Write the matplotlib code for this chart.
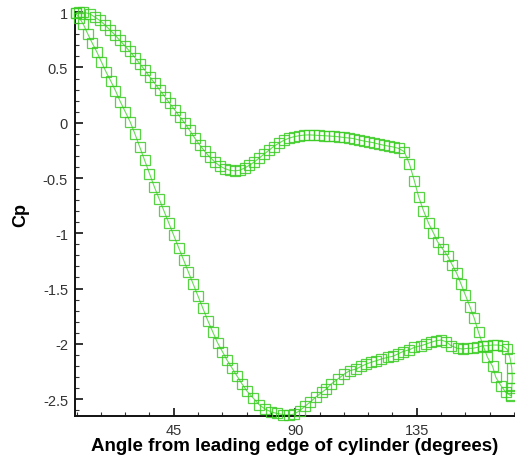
import matplotlib
matplotlib.use("Agg")
import matplotlib.pyplot as plt
from matplotlib.ticker import MultipleLocator, FuncFormatter

# Surface pressure coefficient around the cylinder, two branches of the loop
upper_deg = [8.6, 9.8, 11.5, 13.9, 15.8, 17.6, 19.5, 21.3, 23.2, 25.0, 26.9, 28.7,
             30.6, 32.4, 34.3, 36.1, 38.0, 39.8, 41.7, 43.5, 45.4, 47.2, 49.1, 50.9,
             52.8, 54.6, 56.5, 58.3, 60.2, 62.0, 63.9, 65.7, 67.6, 69.4, 71.2, 73.0,
             74.8, 76.6, 78.4, 80.2, 82.0, 83.9, 85.7, 87.6, 89.4, 91.3, 93.1, 95.0,
             96.8, 98.7, 100.5, 102.4, 104.2, 106.1, 107.9, 109.8, 111.6, 113.5,
             115.3, 117.2, 119.0, 120.9, 122.7, 124.6, 126.4, 128.3, 130.4, 132.3,
             134.1, 135.7, 137.5, 139.4, 141.2, 142.7, 144.6, 146.4, 148.1, 149.8,
             151.4, 153.0, 154.7, 156.3, 157.9, 159.6, 161.2, 163.1, 164.3, 166.2,
             168.0, 169.9]
upper_cp = [0.99, 1.0, 1.0, 0.985, 0.955, 0.925, 0.885, 0.84, 0.795, 0.745, 0.695,
            0.645, 0.59, 0.535, 0.475, 0.415, 0.355, 0.295, 0.235, 0.175, 0.115,
            0.055, -0.005, -0.07, -0.14, -0.2, -0.26, -0.31, -0.355, -0.39, -0.415,
            -0.43, -0.435, -0.43, -0.41, -0.385, -0.355, -0.32, -0.285, -0.25,
            -0.215, -0.185, -0.16, -0.14, -0.127, -0.118, -0.112, -0.11, -0.112,
            -0.115, -0.117, -0.12, -0.123, -0.127, -0.133, -0.138, -0.143, -0.155,
            -0.165, -0.173, -0.181, -0.193, -0.203, -0.212, -0.22, -0.232, -0.262,
            -0.373, -0.524, -0.669, -0.795, -0.91, -0.997, -1.076, -1.142, -1.203,
            -1.284, -1.362, -1.459, -1.558, -1.664, -1.769, -1.896, -2.017, -2.122,
            -2.204, -2.303, -2.379, -2.439, -2.47]

lower_deg = [8.6, 10.0, 11.5, 13.2, 14.8, 16.5, 18.2, 19.9, 21.6, 23.4, 25.2, 27.0,
             28.8, 30.6, 32.4, 34.2, 36.0, 37.8, 39.6, 41.4, 43.2, 45.0, 46.8, 48.6,
             50.4, 52.2, 54.0, 55.8, 57.6, 59.4, 61.2, 63.0, 64.8, 66.6, 68.4, 70.2,
             72.2, 74.4, 76.6, 78.8, 81.0, 83.2, 85.4, 87.6, 89.6, 91.6, 93.6, 95.6,
             97.7, 99.8, 101.5, 103.3, 105.8, 108.2, 110.1, 112.6, 114.4, 116.3,
             118.1, 120.0, 121.8, 124.3, 126.1, 128.0, 129.8, 132.3, 134.1, 136.6,
             138.5, 140.3, 142.2, 144.0, 145.9, 147.7, 150.1, 152.0, 153.8, 155.7,
             157.5, 159.4, 161.2, 163.1, 164.9, 166.8, 168.5, 169.6, 170.2, 170.4,
             170.2, 170.0]
lower_cp = [0.99, 0.95, 0.89, 0.80, 0.72, 0.64, 0.55, 0.46, 0.38, 0.29, 0.19, 0.10,
            0.01, -0.10, -0.22, -0.34, -0.46, -0.58, -0.69, -0.80, -0.91, -1.02,
            -1.13, -1.24, -1.35, -1.46, -1.57, -1.68, -1.79, -1.89, -1.99, -2.07,
            -2.15, -2.22, -2.29, -2.36, -2.43, -2.49, -2.55, -2.59, -2.615, -2.63,
            -2.64, -2.645, -2.635, -2.605, -2.565, -2.525, -2.48, -2.44, -2.409,
            -2.364, -2.318, -2.273, -2.243, -2.228, -2.204, -2.183, -2.167, -2.153,
            -2.138, -2.122, -2.113, -2.092, -2.071, -2.053, -2.032, -2.017, -2.002,
            -1.986, -1.972, -1.966, -1.981, -2.017, -2.041, -2.047, -2.041, -2.041,
            -2.032, -2.017, -2.017, -2.011, -2.011, -2.017, -2.05, -2.13, -2.22,
            -2.31, -2.40, -2.46]

x_major = [45, 90, 135]

plt.rcParams["font.family"] = ["Liberation Sans", "DejaVu Sans"]
plt.rcParams["axes.unicode_minus"] = False

fig = plt.figure(figsize=(5.15, 4.6), dpi=100)
ax = fig.add_axes([0.1456, 0.0942, 0.8544, 0.8771])

for xs, ys in [(upper_deg, upper_cp), (lower_deg, lower_cp)]:
    ax.plot(xs, ys, color="#66dd55", linewidth=0.8, zorder=2, clip_on=False)
    ax.plot(xs, ys, linestyle="none", marker="s", markersize=7.8,
            markerfacecolor="none", markeredgecolor="#3acc22",
            markeredgewidth=0.9, alpha=0.85, zorder=3, clip_on=False)

ax.set_xlim(8.4, 171.4)
ax.set_ylim(-2.65, 1.0)

ax.xaxis.set_major_locator(plt.FixedLocator(x_major))
ax.xaxis.set_minor_locator(MultipleLocator(9))
ax.yaxis.set_major_locator(MultipleLocator(0.5))
ax.yaxis.set_minor_locator(MultipleLocator(0.1))
ax.yaxis.set_major_formatter(FuncFormatter(lambda v, p: f"{v:g}"))

for side in ["top", "right"]:
    ax.spines[side].set_visible(False)
for side in ["left", "bottom"]:
    ax.spines[side].set_linewidth(1.4)
    ax.spines[side].set_color("#111111")

ax.tick_params(which="major", direction="in", length=6, width=1.2,
               labelsize=10.5, pad=5, colors="#111111", labelcolor="#333333")
ax.tick_params(which="minor", direction="in", length=3, width=0.8,
               colors="#333333")

ax.set_xlabel("Angle from leading edge of cylinder (degrees)",
              fontsize=13.5, fontweight="bold", labelpad=0)
ax.set_ylabel("Cp", fontsize=13, fontweight="bold", labelpad=10)

fig.savefig("out.png", dpi=100)
